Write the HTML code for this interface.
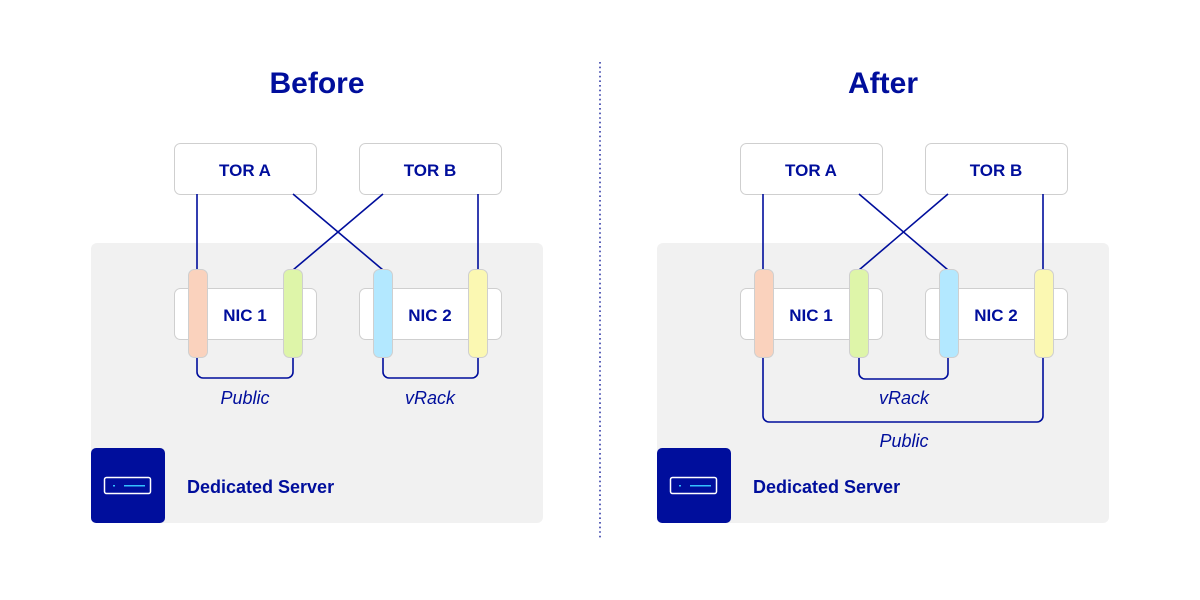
<!DOCTYPE html>
<html><head><meta charset="utf-8"><style>
html,body{margin:0;padding:0;background:#fff;}
svg{display:block;}
text{font-family:"Liberation Sans",sans-serif;fill:#000e9c;}
</style></head><body>
<svg width="1200" height="600" viewBox="0 0 1200 600" xmlns="http://www.w3.org/2000/svg">
<line x1="600" y1="62" x2="600" y2="540" stroke="#5a62b8" stroke-width="2" stroke-dasharray="1.6,3"/>
<text x="317" y="93" font-size="30" font-weight="bold" text-anchor="middle">Before</text>
<text x="883" y="93" font-size="30" font-weight="bold" text-anchor="middle">After</text>

<g id="L">
<rect x="91" y="243" width="452" height="280" rx="6" fill="#f1f1f1"/>
<rect x="174.5" y="143.5" width="142" height="51" rx="6" fill="#fff" stroke="#cfcfcf"/>
<rect x="359.5" y="143.5" width="142" height="51" rx="6" fill="#fff" stroke="#cfcfcf"/>
<text x="245" y="176" font-size="17" font-weight="bold" text-anchor="middle">TOR A</text>
<text x="430" y="176" font-size="17" font-weight="bold" text-anchor="middle">TOR B</text>
<rect x="174.5" y="288.5" width="142" height="51" rx="6" fill="#fff" stroke="#cfcfcf"/>
<rect x="359.5" y="288.5" width="142" height="51" rx="6" fill="#fff" stroke="#cfcfcf"/>
<text x="245" y="321" font-size="17" font-weight="bold" text-anchor="middle">NIC 1</text>
<text x="430" y="321" font-size="17" font-weight="bold" text-anchor="middle">NIC 2</text>
<rect x="91" y="448" width="74" height="75" rx="5" fill="#000e9c"/>
<rect x="104.5" y="477.5" width="46" height="16" rx="2" fill="none" stroke="#fff" stroke-width="1.5"/>
<rect x="124" y="485" width="21" height="1.5" fill="#33c0ff"/>
<rect x="113" y="485" width="2" height="1.5" fill="#33c0ff"/>
<text x="187" y="493" font-size="18" font-weight="bold">Dedicated Server</text>
</g>
<use href="#L" x="566"/>

<g fill="none" stroke="#000e9c" stroke-width="1.6">
<line x1="197" y1="194" x2="197" y2="270"/>
<line x1="478" y1="194" x2="478" y2="270"/>
<line x1="293" y1="194" x2="383" y2="270"/>
<line x1="383" y1="194" x2="293" y2="270"/>
<path d="M197 356 V372 a6 6 0 0 0 6 6 H287 a6 6 0 0 0 6 -6 V356"/>
<path d="M383 356 V372 a6 6 0 0 0 6 6 H472 a6 6 0 0 0 6 -6 V356"/>
<line x1="763" y1="194" x2="763" y2="270"/>
<line x1="1043" y1="194" x2="1043" y2="270"/>
<line x1="859" y1="194" x2="948" y2="270"/>
<line x1="948" y1="194" x2="859" y2="270"/>
<path d="M859 356 V373 a6 6 0 0 0 6 6 H942 a6 6 0 0 0 6 -6 V356"/>
<path d="M763 356 V416 a6 6 0 0 0 6 6 H1037 a6 6 0 0 0 6 -6 V356"/>
</g>
<g stroke="#cfcfcf" stroke-width="1">
<rect x="188.5" y="269.5" width="19" height="88" rx="6" fill="#fad2bd"/>
<rect x="283.5" y="269.5" width="19" height="88" rx="6" fill="#def5a9"/>
<rect x="373.5" y="269.5" width="19" height="88" rx="6" fill="#b3e8ff"/>
<rect x="468.5" y="269.5" width="19" height="88" rx="6" fill="#fbf8b2"/>
<rect x="754.5" y="269.5" width="19" height="88" rx="6" fill="#fad2bd"/>
<rect x="849.5" y="269.5" width="19" height="88" rx="6" fill="#def5a9"/>
<rect x="939.5" y="269.5" width="19" height="88" rx="6" fill="#b3e8ff"/>
<rect x="1034.5" y="269.5" width="19" height="88" rx="6" fill="#fbf8b2"/>
</g>
<g font-size="18" font-style="italic" text-anchor="middle">
<text x="245" y="404">Public</text>
<text x="430" y="404">vRack</text>
<text x="904" y="404">vRack</text>
<text x="904" y="447">Public</text>
</g>
</svg>
</body></html>
